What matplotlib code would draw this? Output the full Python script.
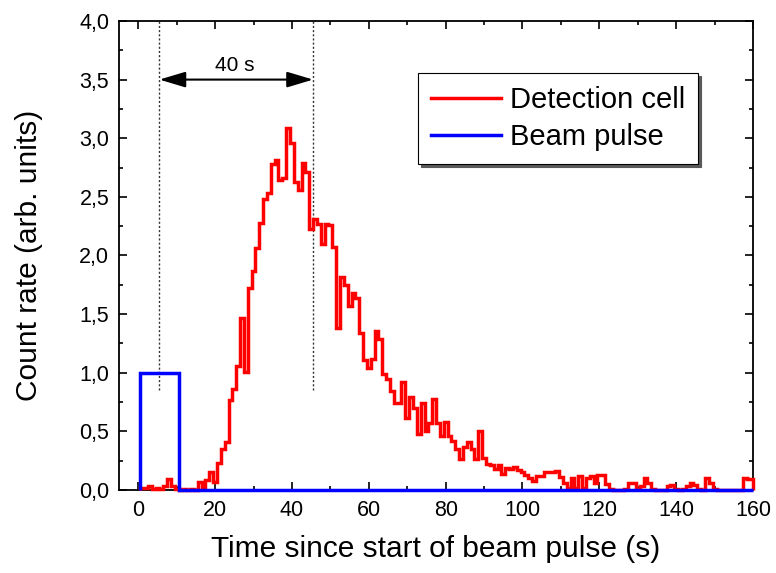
import numpy as np
import matplotlib
matplotlib.use("Agg")
import matplotlib.pyplot as plt
from matplotlib.ticker import MultipleLocator, FuncFormatter

plt.rcParams['font.family'] = ['Liberation Sans', 'DejaVu Sans']

# Detection-cell count rate, 1 s bins (bin edges at half-integers)
detection_edges = np.append(np.arange(0.5, 160, 1.0), 160.0)
detection_rate = [
    0.02, 0.02, 0.03, 0.01, 0.02, 0.01, 0.03, 0.09, 0.03, 0.01, 0.00, 0.01, 0.00, 0.01, 0.00,
    0.07, 0.01, 0.085, 0.15, 0.07, 0.23, 0.35, 0.41, 0.77, 0.86, 1.06, 1.47, 1.01, 1.72, 1.87,
    2.06, 2.28, 2.48, 2.53,
    2.78, 2.81, 2.64, 2.66, 3.09, 2.96, 2.63, 2.56, 2.79, 2.71, 2.23, 2.31, 2.27, 2.10, 2.27,
    2.26, 2.07, 1.38,
    1.82, 1.75, 1.57, 1.68, 1.64, 1.34, 1.11, 1.04, 1.12, 1.36, 1.29, 0.99, 0.95, 0.84, 0.74,
    0.74, 0.92, 0.61, 0.79,
    0.70, 0.48, 0.74, 0.50, 0.57, 0.78, 0.57, 0.46, 0.58, 0.46, 0.42, 0.35, 0.26, 0.37, 0.41,
    0.35, 0.26, 0.50, 0.27, 0.22, 0.21, 0.18, 0.21, 0.14, 0.19, 0.18, 0.20,
    0.17, 0.156, 0.13, 0.10, 0.08, 0.12, 0.12, 0.15, 0.155, 0.15, 0.16, 0.11, 0.06, 0.02, 0.10,
    0.02, 0.12, 0.02, 0.10, 0.12, 0.06, 0.13, 0.13, 0.05, 0.01, 0.0, 0.0, 0.0, 0.01, 0.06,
    0.06, 0.01, 0.03, 0.10, 0.06, 0.01, 0.0, 0.0, 0.0, 0.03, 0.04, 0.01, 0.0, 0.01, 0.03,
    0.06, 0.04, 0.01, 0.0, 0.10, 0.06, 0.01, 0.0, 0.0, 0.0, 0.0, 0.0, 0.0, 0.0, 0.10,
    0.09, 0.09,
]

# Beam pulse: unit height for 10 s
beam_edges = [0.5, 10.5, 160.0]
beam_rate = [1.0, 0.0]

# Marked interval between pulse centre and the later reference time
interval_start = 5.5
interval_end = 45.5
interval_label = "40 s"

fig = plt.figure(figsize=(7.76, 5.73), dpi=100)
ax = fig.add_axes([0.1534, 0.1449, 0.8170, 0.8185])

ax.stairs(detection_rate, detection_edges, color='#ff0000', lw=2.5,
          label='Detection cell', zorder=3, clip_on=False)
ax.stairs(beam_rate, beam_edges, color='#0000ff', lw=2.5,
          label='Beam pulse', zorder=4, clip_on=False)

# Dotted markers and the double arrow
for xv in (interval_start, interval_end):
    ax.plot([xv, xv], [0.85, 4.0], color='#333333', lw=1.0, ls=(0, (1.5, 1.5)), zorder=2)
ax.annotate('', xy=(interval_start, 3.5), xytext=(interval_end, 3.5),
            arrowprops=dict(arrowstyle='<|-|>,head_length=1.0,head_width=0.3',
                            mutation_scale=16, color='black', lw=1.5,
                            shrinkA=0, shrinkB=0))
ax.text((interval_start + interval_end) / 2 - 0.3, 3.62, interval_label,
        ha='center', va='center', fontsize=15)

ax.set_xlim(-5, 160)
ax.set_ylim(0, 4.0)
ax.xaxis.set_major_locator(MultipleLocator(20))
ax.xaxis.set_minor_locator(MultipleLocator(10))
ax.yaxis.set_major_locator(MultipleLocator(0.5))
ax.yaxis.set_minor_locator(MultipleLocator(0.25))
ax.yaxis.set_major_formatter(FuncFormatter(lambda v, p: f"{v:.1f}".replace('.', ',')))
ax.tick_params(which='both', direction='in', top=True, right=True, width=1.2)
ax.tick_params(which='major', length=6, labelsize=15.5, pad=7)
ax.tick_params(which='minor', length=3)
for s in ax.spines.values():
    s.set_linewidth(1.3)

ax.set_xlabel('Time since start of beam pulse (s)', fontsize=21.5, labelpad=10)
ax.set_ylabel('Count rate (arb. units)', fontsize=21.5, labelpad=26)

leg = ax.legend(loc='upper left', bbox_to_anchor=(0.4716, 0.889), fontsize=21,
                frameon=True, fancybox=False, shadow={'color': '0.35', 'alpha': 1.0},
                edgecolor='black', handlelength=2.4, handletextpad=0.3,
                borderpad=0.45, labelspacing=0.3, borderaxespad=0)
leg.get_frame().set_linewidth(0.8)

fig.savefig('out.png', dpi=100)
